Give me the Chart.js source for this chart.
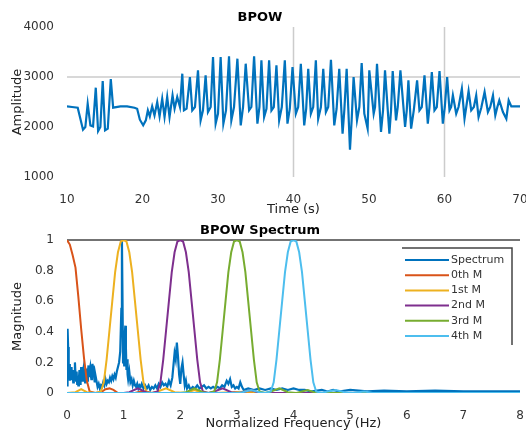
<!DOCTYPE html>
<html>
<head>
<meta charset="utf-8">
<script src="https://cdn.jsdelivr.net/npm/chart.js@4/dist/chart.umd.min.js"></script>
<style>
	body { margin: 0; background: #fff; }
	canvas { display: block; }
</style>
</head>
<body>
<canvas id="signalChart" width="526" height="218"></canvas>
<canvas id="spectrumChart" width="526" height="216"></canvas>
<script>
// --- BPOW time signal (s, amplitude) ---
var timeSec = [10.0, 10.66, 11.42, 11.77, 12.12, 12.43, 12.74, 13.10, 13.45, 13.81, 14.12, 14.42, 14.73, 15.04, 15.40, 15.80, 16.11,
	17.08, 17.96, 18.94, 19.29, 19.65, 20.09, 20.44, 20.71, 20.97, 21.28, 21.59, 21.95, 22.26, 22.61, 22.92, 23.27, 23.58, 23.98,
	24.25, 24.60, 24.96, 25.27, 25.49, 25.84, 26.28, 26.59, 26.95, 27.35, 27.70, 28.01, 28.36, 28.67, 29.03, 29.34, 29.69, 30.00,
	30.35, 30.71, 31.06, 31.46, 31.77, 32.12, 32.57, 33.01, 33.32, 33.67, 34.12, 34.42, 34.78, 35.22, 35.49, 35.75, 36.11, 36.42,
	36.77, 37.08, 37.39, 37.74, 38.10, 38.45, 38.85, 39.20, 39.51, 39.87, 40.31, 40.62, 40.97, 41.42, 41.68, 41.95, 42.30, 42.61,
	42.96, 43.27, 43.63, 43.94, 44.29, 44.60, 44.96, 45.40, 45.71, 46.06, 46.50, 46.73, 47.04, 47.48, 47.70, 47.96, 48.41, 48.72,
	49.03, 49.38, 49.82, 50.04, 50.62, 50.80, 51.06, 51.59, 51.86, 52.12, 52.70, 52.92, 53.14, 53.58, 53.81, 54.16, 54.78, 55.00,
	55.22, 55.58, 55.93, 56.37, 56.68, 56.99, 57.35, 57.79, 58.01, 58.32, 58.67, 58.98, 59.34, 59.78, 60.04, 60.35, 60.66, 60.88,
	61.11, 61.55, 61.86, 62.30, 62.65, 62.88, 63.19, 63.54, 63.89, 64.20, 64.51, 64.87, 65.31, 65.75, 66.06, 66.42, 66.73, 67.00,
	67.26, 67.74, 68.19, 68.50, 68.85, 69.51, 70.0];
var amplitude = [2413, 2400, 2386, 2166, 1946, 2000, 2466, 2033, 2013, 2786, 1919, 2000, 2920, 1932, 1966, 2960, 2386,
	2413, 2413, 2386, 2366, 2146, 2033, 2133, 2333, 2213, 2413, 2233, 2500, 2213, 2566, 2200, 2600, 2200, 2633,
	2366, 2600, 2400, 3066, 2333, 2366, 3000, 2333, 2400, 3133, 2133, 2333, 3033, 2300, 2400, 3400, 2066, 2266,
	3400, 2066, 2333, 3413, 2133, 2400, 3366, 2033, 2400, 3266, 2333, 2400, 3413, 2066, 2400, 3333, 2200, 2366,
	3333, 2333, 2400, 3233, 2133, 2400, 3333, 2066, 2366, 3200, 2266, 2400, 3266, 2033, 2366, 3166, 2266, 2400,
	3333, 2166, 2400, 3166, 2300, 2400, 3346, 2033, 2366, 3166, 1866, 2333, 3166, 1546, 2133, 3000, 2133, 2400,
	3280, 2266, 1966, 3133, 2266, 2400, 3266, 1900, 2333, 3133, 1866, 2333, 3120, 2133, 2400, 3133, 2000, 2333,
	2933, 1966, 2333, 2933, 2333, 2400, 3033, 2066, 2400, 3100, 2333, 2400, 3120, 2066, 2400, 3000, 2333, 2400,
	2633, 2266, 2400, 2766, 2166, 2400, 2720, 2333, 2400, 2633, 2200, 2386, 2700, 2300, 2400, 2633, 2233, 2400,
	2533, 2300, 2166, 2533, 2413, 2413, 2413];
var timeTicks = [10, 20, 30, 40, 50, 60, 70];
var ampTicks = [1000, 2000, 3000, 4000];
// only these grid lines show in the original
var timeGrid = [40, 60];
var ampGrid = [3000];

// --- BPOW spectrum ---
var specFreq = [0.00, 0.01, 0.02, 0.03, 0.04, 0.05, 0.06, 0.07, 0.08, 0.09, 0.10, 0.11, 0.12, 0.13, 0.14, 0.15, 0.16, 0.17, 0.18, 0.19,
	0.20, 0.21, 0.22, 0.23, 0.24, 0.25, 0.26, 0.27, 0.28, 0.29, 0.30, 0.31, 0.32, 0.33, 0.34, 0.35, 0.36, 0.37, 0.38, 0.39,
	0.40, 0.41, 0.42, 0.43, 0.44, 0.45, 0.46, 0.47, 0.48, 0.49, 0.50, 0.52, 0.54, 0.56, 0.58, 0.60, 0.62, 0.64, 0.66, 0.68,
	0.70, 0.72, 0.74, 0.76, 0.78, 0.80, 0.82, 0.84, 0.86, 0.88, 0.90, 0.92, 0.94, 0.96, 0.97, 0.98, 0.99, 1.00, 1.01, 1.02,
	1.03, 1.04, 1.05, 1.06, 1.07, 1.08, 1.10, 1.12, 1.14, 1.16, 1.18, 1.20, 1.22, 1.24, 1.26, 1.28, 1.30, 1.32, 1.35, 1.38,
	1.41, 1.44, 1.47, 1.50, 1.53, 1.56, 1.59, 1.62, 1.65, 1.68, 1.71, 1.74, 1.77, 1.80, 1.83, 1.86, 1.88, 1.90, 1.92, 1.94,
	1.96, 1.98, 2.00, 2.02, 2.04, 2.06, 2.08, 2.10, 2.12, 2.15, 2.18, 2.22, 2.26, 2.30, 2.34, 2.38, 2.42, 2.46, 2.50, 2.54,
	2.58, 2.62, 2.66, 2.70, 2.74, 2.78, 2.82, 2.85, 2.88, 2.91, 2.94, 2.97, 3.00, 3.03, 3.06, 3.09, 3.12, 3.2, 3.3, 3.4,
	3.5, 3.6, 3.7, 3.8, 3.9, 4.0, 4.1, 4.2, 4.3, 4.5, 4.6, 4.7, 4.8, 5.0, 5.3, 5.6, 6.0, 6.5, 7.0, 7.5, 8.0];
var specMag = [0.05, 0.42, 0.30, 0.12, 0.19, 0.08, 0.14, 0.10, 0.17, 0.09, 0.12, 0.07, 0.15, 0.10, 0.20, 0.12, 0.08, 0.14, 0.06, 0.11,
	0.05, 0.09, 0.15, 0.06, 0.10, 0.17, 0.12, 0.08, 0.14, 0.16, 0.09, 0.13, 0.07, 0.11, 0.16, 0.10, 0.08, 0.14, 0.18, 0.11,
	0.15, 0.17, 0.12, 0.09, 0.16, 0.19, 0.13, 0.18, 0.10, 0.07, 0.12, 0.08, 0.04, 0.06, 0.03, 0.05, 0.04, 0.07, 0.05, 0.09,
	0.06, 0.08, 0.07, 0.10, 0.08, 0.11, 0.09, 0.12, 0.10, 0.14, 0.17, 0.20, 0.27, 0.55, 1.00, 0.62, 0.20, 0.28, 0.18, 0.38,
	0.44, 0.30, 0.15, 0.22, 0.12, 0.09, 0.14, 0.07, 0.09, 0.05, 0.08, 0.05, 0.04, 0.06, 0.03, 0.05, 0.04, 0.06, 0.03, 0.05,
	0.03, 0.05, 0.02, 0.04, 0.03, 0.05, 0.03, 0.06, 0.04, 0.07, 0.05, 0.06, 0.04, 0.08, 0.05, 0.10, 0.18, 0.26, 0.22, 0.33,
	0.24, 0.12, 0.06, 0.16, 0.20, 0.12, 0.05, 0.08, 0.03, 0.05, 0.02, 0.04, 0.03, 0.05, 0.03, 0.04, 0.05, 0.03, 0.04, 0.03,
	0.04, 0.03, 0.04, 0.03, 0.05, 0.04, 0.08, 0.06, 0.09, 0.04, 0.05, 0.03, 0.04, 0.03, 0.07, 0.04, 0.02, 0.03, 0.02, 0.03,
	0.02, 0.03, 0.02, 0.03, 0.02, 0.03, 0.02, 0.02, 0.01, 0.02, 0.01, 0.02, 0.01, 0.02, 0.01, 0.015, 0.01, 0.015, 0.01, 0.01, 0.01];

var mode0Freq = [0, 0.05, 0.1, 0.15, 0.2, 0.25, 0.3, 0.35, 0.4, 0.5, 0.6, 0.68, 0.75, 0.82, 0.9, 1.2, 1.3, 1.4, 2, 8];
var mode0Mag = [1, 0.97, 0.9, 0.82, 0.63, 0.42, 0.23, 0.08, 0.01, 0, 0.005, 0.025, 0.03, 0.02, 0, 0, 0.01, 0, 0, 0];

var mode1Freq = [0, 0.15, 0.25, 0.35, 0.5, 0.6, 0.65, 0.7, 0.75, 0.8, 0.85, 0.9, 0.95, 1, 1.05, 1.1, 1.15, 1.2, 1.25, 1.3, 1.35, 1.4,
	1.5, 1.6, 1.75, 1.9, 2.1, 2.25, 2.4, 2.6, 3.25, 3.4, 8];
var mode1Mag = [0, 0.005, 0.025, 0.005, 0, 0.01, 0.07, 0.22, 0.41, 0.6, 0.79, 0.92, 0.99, 1, 0.99, 0.92, 0.79, 0.6, 0.41, 0.22, 0.07, 0.01,
	0, 0.01, 0.03, 0.005, 0, 0.02, 0, 0, 0.01, 0, 0];

var mode2Freq = [0, 1, 1.1, 1.25, 1.4, 1.5, 1.6, 1.65, 1.7, 1.75, 1.8, 1.85, 1.9, 1.95, 2, 2.05, 2.1, 2.15, 2.2, 2.25, 2.3, 2.35, 2.4,
	2.5, 2.6, 2.75, 2.9, 3.05, 3.25, 3.4, 3.6, 8];
var mode2Mag = [0, 0, 0.005, 0.03, 0.005, 0, 0.01, 0.07, 0.22, 0.41, 0.6, 0.79, 0.92, 0.99, 1, 0.99, 0.92, 0.79, 0.6, 0.41, 0.22, 0.07, 0.01,
	0, 0.01, 0.03, 0.005, 0, 0.02, 0, 0, 0];

var mode3Freq = [0, 2, 2.1, 2.25, 2.4, 2.5, 2.6, 2.65, 2.7, 2.75, 2.8, 2.85, 2.9, 2.95, 3, 3.05, 3.1, 3.15, 3.2, 3.25, 3.3, 3.35, 3.4,
	3.5, 3.6, 3.75, 3.9, 4.05, 4.25, 4.4, 4.6, 8];
var mode3Mag = [0, 0, 0.005, 0.03, 0.005, 0, 0.01, 0.07, 0.22, 0.41, 0.6, 0.79, 0.92, 0.99, 1, 0.99, 0.92, 0.79, 0.6, 0.41, 0.22, 0.07, 0.01,
	0, 0.01, 0.03, 0.005, 0, 0.02, 0, 0, 0];

var mode4Freq = [0, 3, 3.1, 3.25, 3.4, 3.5, 3.6, 3.65, 3.7, 3.75, 3.8, 3.85, 3.9, 3.95, 4, 4.05, 4.1, 4.15, 4.2, 4.25, 4.3, 4.35, 4.4,
	4.5, 4.6, 4.75, 4.9, 5.05, 5.25, 5.4, 5.6, 8];
var mode4Mag = [0, 0, 0.005, 0.02, 0.005, 0, 0.01, 0.07, 0.22, 0.41, 0.6, 0.79, 0.92, 0.99, 1, 0.99, 0.92, 0.79, 0.6, 0.41, 0.22, 0.07, 0.01,
	0, 0.01, 0.02, 0.005, 0, 0.01, 0, 0, 0];

var freqTicks = [0, 1, 2, 3, 4, 5, 6, 7, 8];
var magTicks = [0, 0.2, 0.4, 0.6, 0.8, 1];
var magGrid = [1];

var seriesNames = ["Spectrum", "0th M", "1st M", "2nd M", "3rd M", "4th M"];
var seriesColors = ["#0072BD", "#D95319", "#EDB120", "#7E2F8E", "#77AC30", "#4DBEEE"];

var FONT = "'DejaVu Sans', sans-serif";

function pairs(xs, ys){
	var out = [];
	for (var i = 0; i < xs.length; i++){
		out.push({x: xs[i], y: ys[i]});
	}
	return out;
}

// fixed scale boxes so the plot areas sit where the original ones do
function fixY(width){
	return function(scale){ scale.width = width; };
}
function fixX(height){
	return function(scale){
		scale.height = height;
		scale.paddingLeft = 0;
		scale.paddingRight = 0;
	};
}

function xScale(min, max, ticks, title, titleBottom){
	return {
		type: "linear", min: min, max: max,
		afterBuildTicks: function(s){ s.ticks = ticks.map(function(v){ return {value: v}; }); },
		afterFit: fixX(41),
		border: {display: false},
		grid: {display: false},
		ticks: {padding: 8, color: "#333", font: {family: FONT, size: 12}, maxRotation: 0},
		title: {display: true, text: title, color: "#222", font: {family: FONT, size: 13}, padding: {top: 0, bottom: titleBottom}}
	};
}

function yScale(min, max, ticks, title, fmt){
	return {
		min: min, max: max,
		afterBuildTicks: function(s){ s.ticks = ticks.map(function(v){ return {value: v}; }); },
		afterFit: fixY(67),
		border: {display: false},
		grid: {display: false},
		ticks: {padding: 5, color: "#333", font: {family: FONT, size: 12}, callback: fmt},
		title: {display: true, text: title, color: "#222", font: {family: FONT, size: 13}, padding: 10}
	};
}

// draws the few grid lines that are visible, under the data
function gridLines(xVals, yVals, color){
	return {
		id: "someGrid",
		beforeDatasetsDraw: function(chart){
			var c = chart.ctx, a = chart.chartArea;
			c.save();
			c.strokeStyle = color;
			c.lineWidth = 1.5;
			c.beginPath();
			xVals.forEach(function(v){
				var px = chart.scales.x.getPixelForValue(v);
				c.moveTo(px, a.top);
				c.lineTo(px, a.bottom);
			});
			yVals.forEach(function(v){
				var py = chart.scales.y.getPixelForValue(v);
				c.moveTo(a.left, py);
				c.lineTo(a.right, py);
			});
			c.stroke();
			c.restore();
		}
	};
}

function signalChart(){
	var ctx = document.getElementById("signalChart").getContext("2d");
	new Chart(ctx, {
		type: "line",
		data: {
			datasets: [{
				data: pairs(timeSec, amplitude),
				borderColor: seriesColors[0],
				borderWidth: 2.2,
				pointRadius: 0,
				tension: 0
			}]
		},
		options: {
			responsive: false,
			animation: false,
			devicePixelRatio: 1,
			layout: {padding: {left: 0, right: 6, top: 0, bottom: 0}},
			plugins: {
				legend: {display: false},
				tooltip: {enabled: false},
				title: {display: true, text: "BPOW", color: "#000",
					font: {family: FONT, size: 13, weight: "bold"}, padding: {top: 10, bottom: 1.4}}
			},
			scales: {
				x: xScale(10, 70, timeTicks, "Time (s)", 1),
				y: yScale(1000, 4000, ampTicks, "Amplitude")
			}
		},
		plugins: [gridLines(timeGrid, ampGrid, "#cccccc")]
	});
}

// legend drawn inside the plot area, top right (only the top and right edges show in the original)
var innerLegend = {
	id: "innerLegend",
	afterDraw: function(chart){
		var c = chart.ctx, a = chart.chartArea;
		var boxL = a.right - 118, boxR = a.right - 8, boxT = a.top + 8, boxB = a.top + 105;
		c.save();
		c.strokeStyle = "#444";
		c.lineWidth = 1.5;
		c.beginPath();
		c.moveTo(boxL, boxT);
		c.lineTo(boxR, boxT);
		c.lineTo(boxR, boxB);
		c.stroke();

		c.font = "11px " + FONT;
		c.textBaseline = "middle";
		c.fillStyle = "#333";
		for (var i = 0; i < seriesNames.length; i++){
			var y = a.top + 20 + i * 15.2;
			c.strokeStyle = seriesColors[i];
			c.lineWidth = 2;
			c.beginPath();
			c.moveTo(a.right - 115, y);
			c.lineTo(a.right - 71, y);
			c.stroke();
			c.fillText(seriesNames[i], a.right - 69, y);
		}
		c.restore();
	}
};

function spectrumChart(){
	var freqs = [specFreq, mode0Freq, mode1Freq, mode2Freq, mode3Freq, mode4Freq];
	var mags = [specMag, mode0Mag, mode1Mag, mode2Mag, mode3Mag, mode4Mag];
	var datasets = [];
	for (var i = 0; i < seriesNames.length; i++){
		datasets.push({
			label: seriesNames[i],
			data: pairs(freqs[i], mags[i]),
			borderColor: seriesColors[i],
			borderWidth: i == 0 ? 2.2 : 2,
			pointRadius: 0,
			tension: 0,
			order: seriesNames.length - i
		});
	}

	var ctx = document.getElementById("spectrumChart").getContext("2d");
	new Chart(ctx, {
		type: "line",
		data: {datasets: datasets},
		options: {
			responsive: false,
			animation: false,
			devicePixelRatio: 1,
			layout: {padding: {left: 0, right: 6, top: 0, bottom: 0}},
			plugins: {
				legend: {display: false},
				tooltip: {enabled: false},
				title: {display: true, text: "BPOW Spectrum", color: "#000",
					font: {family: FONT, size: 13, weight: "bold"}, padding: {top: 5.2, bottom: 1.2}}
			},
			scales: {
				x: xScale(0, 8, freqTicks, "Normalized Frequency (Hz)", 2.2),
				y: yScale(0, 1, magTicks, "Magnitude", function(v){ return +v.toFixed(1); })
			}
		},
		plugins: [gridLines([], magGrid, "#444"), innerLegend]
	});
}

signalChart();
spectrumChart();
</script>
</body>
</html>
